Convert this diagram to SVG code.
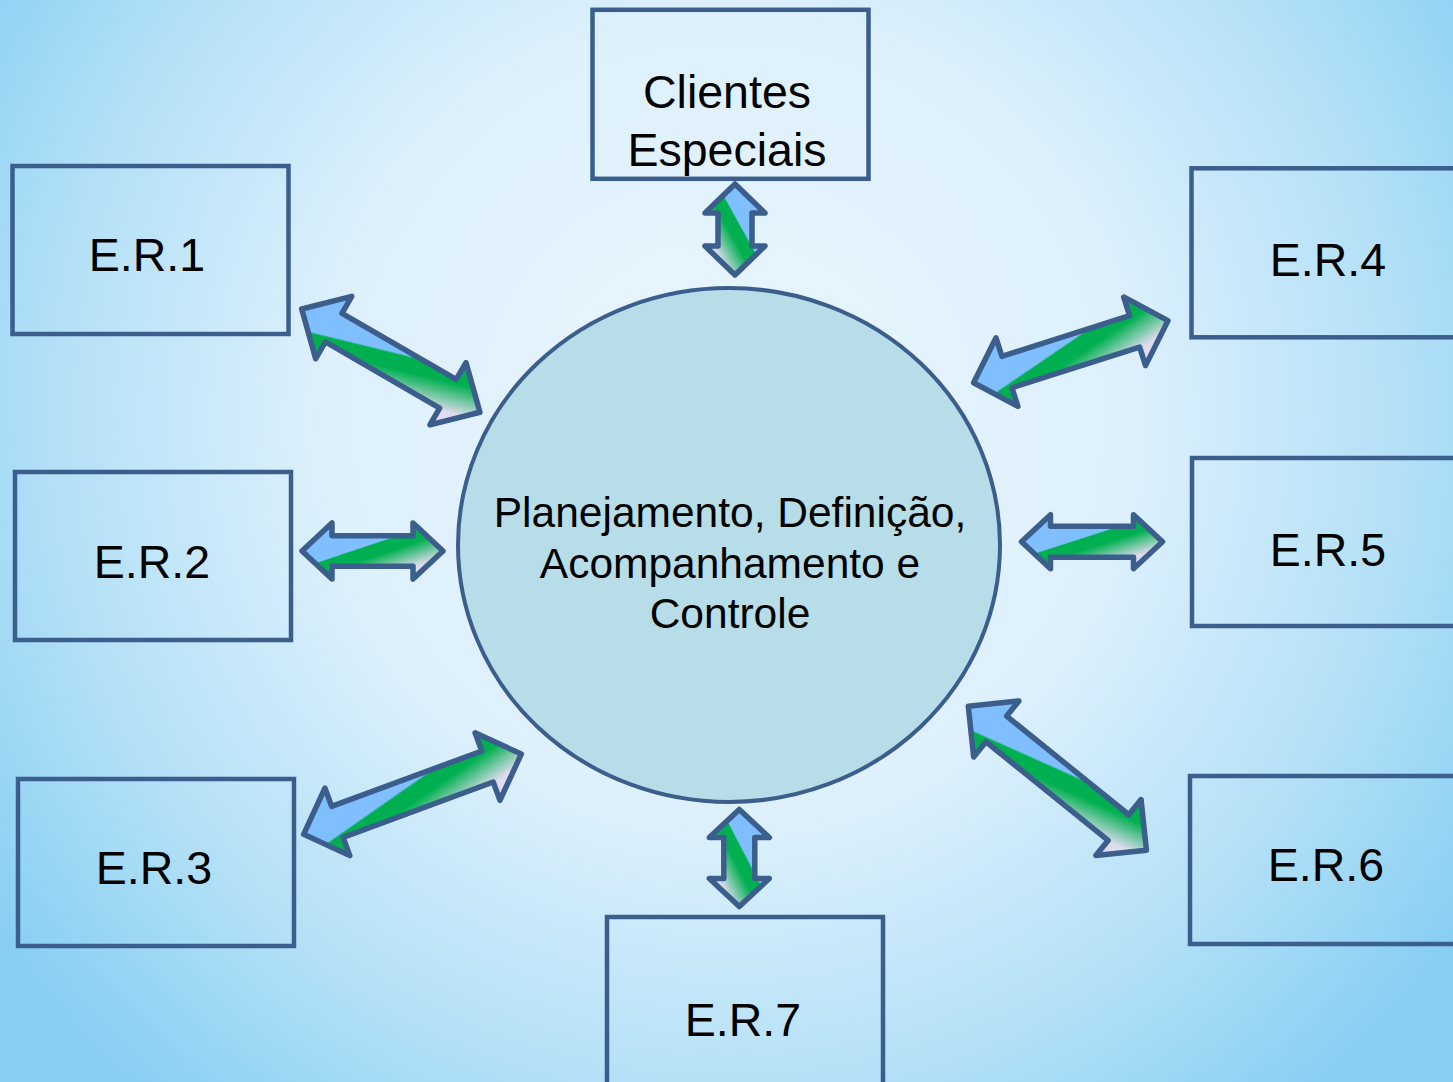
<svg xmlns="http://www.w3.org/2000/svg" width="1453" height="1082" viewBox="0 0 1453 1082">
<defs>
<radialGradient id="bg" gradientUnits="userSpaceOnUse" cx="727" cy="420" r="900">
<stop offset="0" stop-color="#EAF6FD"/>
<stop offset="0.45" stop-color="#DDF0FC"/>
<stop offset="0.75" stop-color="#B3E0F7"/>
<stop offset="1" stop-color="#86CEF2"/>
</radialGradient>
<linearGradient id="ag" x1="0" y1="0" x2="0.9" y2="1.07">
<stop offset="0" stop-color="#80BFFF"/>
<stop offset="0.43" stop-color="#80BFFF"/>
<stop offset="0.445" stop-color="#00B050"/>
<stop offset="0.56" stop-color="#00B050"/>
<stop offset="0.8" stop-color="#E0DCF0"/>
<stop offset="1" stop-color="#E0DCF0"/>
</linearGradient>
<style>
.box{fill:none;stroke:#3B5E8C;stroke-width:4.5}
.lbl{font-family:"Liberation Sans",Arial,sans-serif;font-size:46.5px;fill:#000;text-anchor:middle}
.ctr{font-family:"Liberation Sans",Arial,sans-serif;font-size:42.5px;fill:#000;text-anchor:middle}
.arr{fill:url(#ag);stroke:#3B5E8C;stroke-width:5.5;stroke-linejoin:round}
</style>
</defs>
<rect x="0" y="0" width="1453" height="1082" fill="url(#bg)"/>

<g id="clientes">
<rect class="box" x="592.5" y="9.8" width="276" height="169"/>
<text class="lbl" x="727" y="108">Clientes</text>
<text class="lbl" x="727" y="166">Especiais</text>
</g>
<g id="er1">
<rect class="box" x="12.5" y="166" width="276" height="168"/>
<text class="lbl" x="147" y="271">E.R.1</text>
</g>
<g id="er2">
<rect class="box" x="15" y="472" width="276" height="168"/>
<text class="lbl" x="152" y="578">E.R.2</text>
</g>
<g id="er3">
<rect class="box" x="18" y="779" width="276" height="167"/>
<text class="lbl" x="154" y="884">E.R.3</text>
</g>
<g id="er4">
<rect class="box" x="1191.5" y="168.3" width="280" height="169"/>
<text class="lbl" x="1328" y="276">E.R.4</text>
</g>
<g id="er5">
<rect class="box" x="1192" y="458" width="280" height="168"/>
<text class="lbl" x="1328" y="566">E.R.5</text>
</g>
<g id="er6">
<rect class="box" x="1190" y="776" width="280" height="168"/>
<text class="lbl" x="1326" y="881">E.R.6</text>
</g>
<g id="er7">
<rect class="box" x="607" y="917" width="276" height="180"/>
<text class="lbl" x="743" y="1036">E.R.7</text>
</g>
<g id="centro">
<ellipse cx="729" cy="545" rx="271" ry="257" fill="#B7DDE8" stroke="#3B5E8C" stroke-width="4"/>
<text class="ctr" x="730" y="527">Planejamento, Definição,</text>
<text class="ctr" x="730" y="578">Acompanhamento e</text>
<text class="ctr" x="730" y="628">Controle</text>
</g>

<g id="connectors">
<path class="arr" transform="translate(735,184) rotate(90)" d="M0,0 L29,-30 L29,-17 L62,-17 L62,-30 L91,0 L62,30 L62,17 L29,17 L29,30 Z"/>
<path class="arr" transform="translate(301.7,309) rotate(30.09)" d="M0,0 L37,-36 L37,-16.5 L169,-16.5 L169,-36 L206,0 L169,36 L169,16.5 L37,16.5 L37,36 Z"/>
<path class="arr" transform="translate(302,551)" d="M0,0 L30,-28 L30,-15.3 L111,-15.3 L111,-28 L141,0 L111,28 L111,15.3 L30,15.3 L30,28 Z"/>
<path class="arr" transform="translate(303.6,834.3) rotate(-20.24)" d="M0,0 L36,-36 L36,-16.5 L196,-16.5 L196,-36 L232,0 L196,36 L196,16.5 L36,16.5 L36,36 Z"/>
<path class="arr" transform="translate(973.6,382.7) rotate(-17.7)" d="M0,0 L35,-36 L35,-16.5 L169,-16.5 L169,-36 L204,0 L169,36 L169,16.5 L35,16.5 L35,36 Z"/>
<path class="arr" transform="translate(1021.5,541.7)" d="M0,0 L29,-27 L29,-15.5 L112,-15.5 L112,-27 L141,0 L112,27 L112,15.5 L29,15.5 L29,27 Z"/>
<path class="arr" transform="translate(968.3,706.3) rotate(38.93)" d="M0,0 L36,-36 L36,-16.5 L193,-16.5 L193,-36 L229,0 L193,36 L193,16.5 L36,16.5 L36,36 Z"/>
<path class="arr" transform="translate(739.3,809.5) rotate(90)" d="M0,0 L28,-30 L28,-15.5 L69,-15.5 L69,-30 L97,0 L69,30 L69,15.5 L28,15.5 L28,30 Z"/>
</g>
</svg>
